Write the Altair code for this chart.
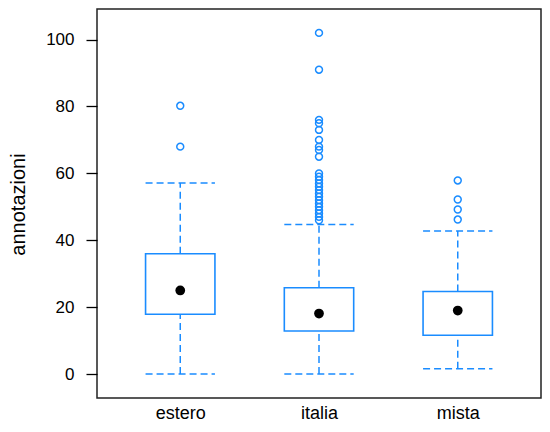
import json
import altair as alt
import pandas as pd

categories = ["estero", "italia", "mista"]
q1 = [17.9, 12.9, 11.6]
q3 = [36.0, 25.8, 24.7]
median = [25.0, 18.1, 19.0]
whisk_lo = [0.0, 0.0, 1.6]
whisk_hi = [57.1, 44.7, 42.8]
outliers = {
    "estero": [68.0, 80.2],
    "italia": [46, 47, 48, 49, 50, 51, 52, 53, 54, 55, 56, 57, 58, 59, 60,
               65, 67, 68, 70, 73, 75, 76, 91, 102],
    "mista": [46.2, 49.2, 52.2, 57.9],
}

BLUE = "#1a8cff"
pos = {c: i + 1 for i, c in enumerate(categories)}

box_df = pd.DataFrame({
    "cat": categories,
    "pos": [pos[c] for c in categories],
    "q1": q1, "q3": q3, "med": median, "lo": whisk_lo, "hi": whisk_hi,
})
out_df = pd.DataFrame(
    [{"cat": c, "pos": pos[c], "v": v} for c in categories for v in outliers[c]]
)

label_expr = json.dumps(categories) + "[datum.value - 1]"

xscale = alt.Scale(domain=[0.4, 3.6], nice=False, zero=False)
yscale = alt.Scale(domain=[-7.14, 109.14], nice=False, zero=False)

xaxis = alt.Axis(values=[1, 2, 3], labelExpr=label_expr, title=None, ticks=False,
                 domain=False, grid=False, labelFontSize=18, labelFont="Liberation Sans",
                 labelColor="black", labelPadding=6, labelBaseline="top")
yaxis = alt.Axis(values=[0, 20, 40, 60, 80, 100], title="annotazioni", grid=False,
                 domain=False, tickSize=11, tickColor="black", tickWidth=1.3,
                 labelFontSize=17, labelFont="Liberation Sans", labelColor="black",
                 labelPadding=12, titleFontSize=20, titleFont="Liberation Sans",
                 titleFontWeight="normal", titleColor="black", titleAngle=-90,
                 titleX=-79, titleY=195, titleAlign="center", titleBaseline="middle")

base = alt.Chart(box_df)
dash = dict(color=BLUE, strokeWidth=1.5, strokeDash=[7, 4])

whisk_up = base.mark_rule(**dash).encode(
    x=alt.X("pos:Q", scale=xscale, axis=xaxis),
    y=alt.Y("q3:Q", scale=yscale, axis=yaxis),
    y2="hi:Q",
)
whisk_down = base.mark_rule(**dash).encode(x="pos:Q", y="lo:Q", y2="q1:Q")
wide = base.transform_calculate(a="datum.pos - 0.25", b="datum.pos + 0.25")
caps_hi = wide.mark_rule(**dash).encode(x="a:Q", x2="b:Q", y="hi:Q")
caps_lo = wide.mark_rule(**dash).encode(x="a:Q", x2="b:Q", y="lo:Q")
boxes = wide.mark_rect(fillOpacity=0, stroke=BLUE, strokeWidth=1.6).encode(
    x="a:Q", x2="b:Q", y="q1:Q", y2="q3:Q")
pts = alt.Chart(out_df).mark_point(shape="circle", filled=False, color=BLUE,
                                   size=48, strokeWidth=1.5, opacity=1).encode(
    x="pos:Q", y="v:Q")
meds = base.mark_point(shape="circle", filled=True, color="black", size=95, opacity=1).encode(
    x="pos:Q", y="med:Q")

chart = alt.layer(whisk_up, whisk_down, caps_hi, caps_lo, boxes, pts, meds).properties(
    width=444, height=389,
    autosize=alt.AutoSizeParams(type="none"),
    padding={"left": 89, "top": 1, "right": 1, "bottom": 26},
).configure_view(stroke="#222222", strokeWidth=1.5)

chart.save("out.html", embed_options={"renderer": "svg", "actions": False})
